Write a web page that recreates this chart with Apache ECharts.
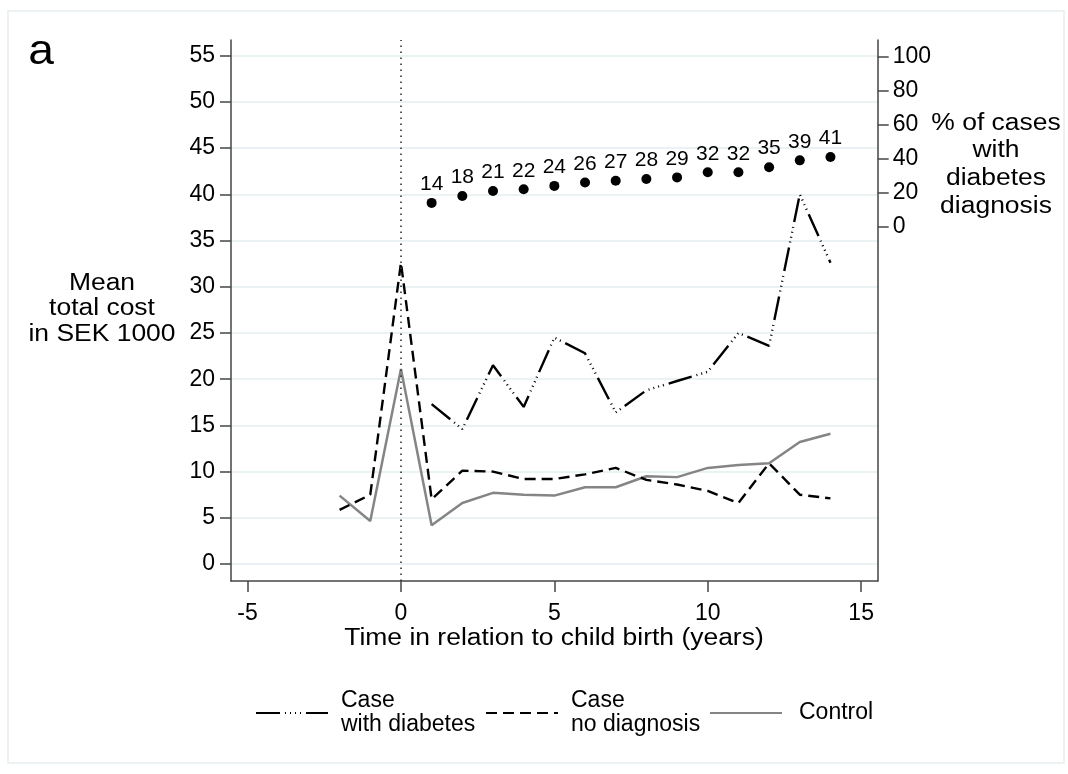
<!DOCTYPE html>
<html><head><meta charset="utf-8">
<script src="https://cdn.jsdelivr.net/npm/echarts@6/dist/echarts.min.js"></script>
<style>html,body{margin:0;padding:0;background:#fff}#c{width:1068px;height:774px}</style>
</head><body><div id="c"></div>
<script>
const years = [-2,-1,0,1,2,3,4,5,6,7,8,9,10,11,12,13,14];
const caseDiabetes = [null,null,null,17.3,14.6,21.5,17.0,24.5,22.8,16.4,18.8,19.8,20.8,25.0,23.6,40.0,32.6];
const caseNoDiagnosis = [5.85,7.5,32.6,7.0,10.1,10.0,9.2,9.2,9.7,10.4,9.1,8.6,7.9,6.6,10.9,7.5,7.1];
const control = [7.4,4.65,21.1,4.2,6.6,7.7,7.5,7.4,8.3,8.3,9.5,9.4,10.4,10.7,10.9,13.2,14.1];
const pctYears = [1,2,3,4,5,6,7,8,9,10,11,12,13,14];
const pctDiagnosed = [14,18,21,22,24,26,27,28,29,32,32,35,39,41];
const xTicks = [-5,0,5,10,15];
const yTicks = [0,5,10,15,20,25,30,35,40,45,50,55];
const pctTicks = [0,20,40,60,80,100];
const names = ['Case\nwith diabetes','Case\nno diagnosis','Control'];

const FONT = '"Liberation Sans", Arial, Helvetica, sans-serif';
const AX = '#454545';
const pair = (xs, ys) => xs.map((x,i)=>[x, ys[i]]).filter(p => p[1] !== null);

const chart = echarts.init(document.getElementById('c'), null, {renderer:'canvas'});
const legendBase = {
  orient:'horizontal', itemWidth:72, itemHeight:14, selectedMode:false,
  itemStyle:{color:'rgba(0,0,0,0)', borderColor:'rgba(0,0,0,0)', borderWidth:0, opacity:0},
  textStyle:{fontFamily:FONT, fontSize:23, color:'#000', lineHeight:24, padding:[0,0,0,8]}
};
chart.setOption({
  animation:false,
  backgroundColor:'#fff',
  textStyle:{fontFamily:FONT},
  grid:{left:231, right:190.3, top:40, bottom:193, containLabel:false},
  xAxis:{
    type:'value', min:-5.54, max:15.54,
    axisLine:{show:true, onZero:false, lineStyle:{color:AX, width:1.5}},
    axisTick:{show:true, length:11, lineStyle:{color:AX, width:1.5}, customValues:xTicks},
    axisLabel:{fontSize:23, color:'#000', fontFamily:FONT, margin:21, customValues:xTicks},
    splitLine:{show:false}
  },
  yAxis:[{
    type:'value', min:-1.84, max:56.7, position:'left',
    axisLine:{show:true, onZero:false, lineStyle:{color:AX, width:1.5}},
    axisTick:{show:true, length:11, lineStyle:{color:AX, width:1.5}, customValues:yTicks},
    axisLabel:{fontSize:23, color:'#000', fontFamily:FONT, margin:16, customValues:yTicks},
    splitLine:{show:true, lineStyle:{color:'#EAF2F3', width:2}}
  },{
    type:'value', min:-208.4, max:109.8, position:'right',
    axisLine:{show:true, onZero:false, lineStyle:{color:AX, width:1.5}},
    axisTick:{show:true, length:11, lineStyle:{color:AX, width:1.5}, customValues:pctTicks},
    axisLabel:{fontSize:23, color:'#000', fontFamily:FONT, margin:15, customValues:pctTicks},
    splitLine:{show:false}
  }],
  legend:[
    Object.assign({}, legendBase, {data:[names[0]], left:250, top:684}),
    Object.assign({}, legendBase, {data:[names[1]], left:480, top:684}),
    Object.assign({}, legendBase, {data:[names[2]], left:704, top:696, textStyle:Object.assign({}, legendBase.textStyle, {padding:[0,0,0,12]})})
  ],
  series:[
    {name:names[2], type:'line', data:pair(years, control), symbol:'none',
     lineStyle:{color:'#858585', width:2.5}, itemStyle:{color:'#858585'}, z:2,
     markLine:{silent:true, symbol:'none', label:{show:false}, animation:false,
       lineStyle:{color:'#333', width:1.6, type:[1.6,4.4]}, data:[{xAxis:0}]}},
    {name:names[1], type:'line', data:pair(years, caseNoDiagnosis), symbol:'none',
     lineStyle:{color:'#000', width:2.4, type:[11,6]}, itemStyle:{color:'#000'}, z:3},
    {name:names[0], type:'line', data:pair(years, caseDiabetes), symbol:'none',
     lineStyle:{color:'#000', width:2.4, type:[24,5,1,4,1,4,1,4,1,5]}, itemStyle:{color:'#000'}, z:4},
    {name:'pct', type:'scatter', yAxisIndex:1, data:pair(pctYears, pctDiagnosed),
     symbol:'circle', symbolSize:10, itemStyle:{color:'#000', opacity:1}, z:5,
     label:{show:true, position:'top', distance:3, fontSize:21, color:'#000', fontFamily:FONT,
       formatter:p=>String(p.value[1])}}
  ],
  graphic:[
    {type:'rect', shape:{x:8, y:11, width:1056, height:752}, style:{fill:null, stroke:'#E6EEF0', lineWidth:1.5}, silent:true, z:-1},
    {type:'text', x:41, y:52, scaleX:1.1, style:{text:'a', fontSize:42, fontFamily:FONT, fill:'#000', textAlign:'center', textVerticalAlign:'middle'}},
    {type:'text', x:102, y:309, scaleX:1.15, style:{text:'Mean\ntotal cost\nin SEK 1000', fontSize:23, lineHeight:25.5, fontFamily:FONT, fill:'#000', textAlign:'center', textVerticalAlign:'middle'}},
    {type:'text', x:996, y:165, scaleX:1.15, style:{text:'% of cases\nwith\ndiabetes\ndiagnosis', fontSize:23, lineHeight:27.7, fontFamily:FONT, fill:'#000', textAlign:'center', textVerticalAlign:'middle'}},
    {type:'text', x:554, y:639, scaleX:1.15, style:{text:'Time in relation to child birth (years)', fontSize:23, fontFamily:FONT, fill:'#000', textAlign:'center', textVerticalAlign:'middle'}}
  ]
});
</script></body></html>
